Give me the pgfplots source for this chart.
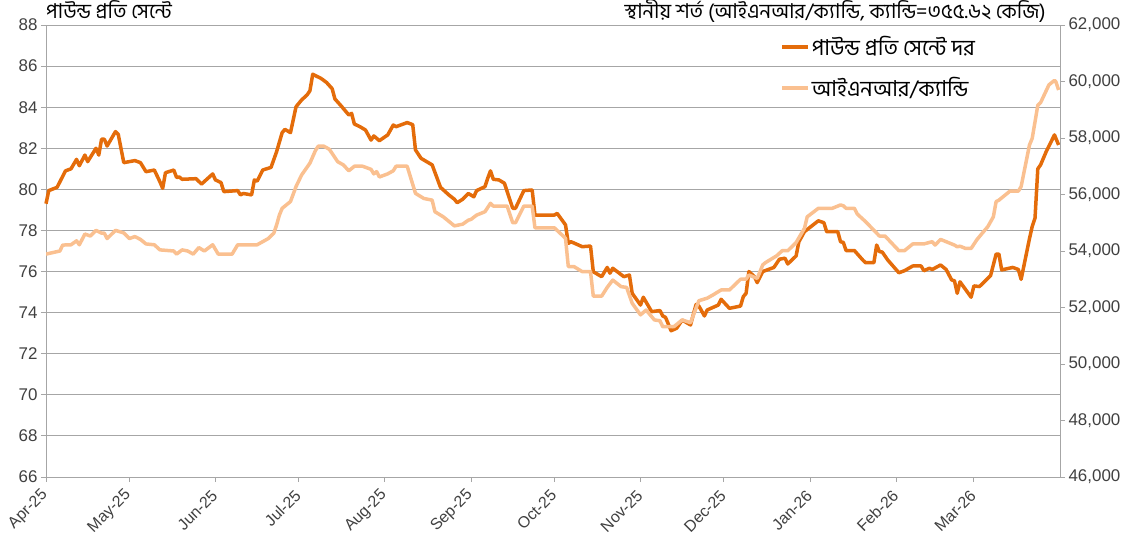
\documentclass[border=0pt]{standalone}
\usepackage{fontspec}
\setmainfont{Liberation Sans}
\newfontfamily\bn[Script=Bengali]{Hind Siliguri}
\usepackage{pgfplots}
\usepackage{pgfplotstable}
\pgfplotsset{compat=1.18}
\definecolor{dk}{HTML}{E46C0A}
\definecolor{lt}{HTML}{FAC090}
\definecolor{gridc}{HTML}{A6A6A6}
\definecolor{txt}{HTML}{404040}

% day (0 = 1 Apr 2025), US cents per pound
\pgfplotstableread{
d v
0 79.3
1 79.94
4 80.1
7 80.9
9 81.0
11 81.46
12 81.15
14 81.67
15 81.35
18 82.0
19 81.67
20 82.44
21 82.44
22 82.11
25 82.81
26 82.68
28 81.3
32 81.4
34 81.3
36 80.86
39 80.94
41 80.37
42 80.05
43 80.81
46 80.94
47 80.58
48 80.6
49 80.49
54 80.52
56 80.26
60 80.75
61 80.46
63 80.33
64 79.89
69 79.94
70 79.73
71 79.8
74 79.73
75 80.46
76 80.4
78 80.94
81 81.07
83 81.83
85 82.76
86 82.92
88 82.76
90 84.02
92 84.35
94 84.6
95 84.8
96 85.6
99 85.4
101 85.2
103 84.9
104 84.4
106 84.1
109 83.62
110 83.7
111 83.18
113 83.05
115 82.89
117 82.4
118 82.6
120 82.37
123 82.65
125 83.13
126 83.05
130 83.25
132 83.15
133 81.92
135 81.51
139 81.19
142 80.1
145 79.73
147 79.52
148 79.35
150 79.52
152 79.8
154 79.64
155 79.94
158 80.13
159 80.54
160 80.9
161 80.49
163 80.46
165 80.3
168 79.08
169 79.08
172 79.94
175 79.97
176 78.75
183 78.75
184 78.83
187 78.27
188 77.37
189 77.45
193 77.21
196 77.24
197 75.99
200 75.75
202 76.2
203 75.92
204 76.16
208 75.75
210 75.83
211 74.94
214 74.37
215 74.75
218 74.05
221 74.1
222 73.84
223 73.77
225 73.12
227 73.24
229 73.64
232 73.4
234 74.4
235 74.32
237 73.84
238 74.13
242 74.37
243 74.65
246 74.21
250 74.32
251 74.78
252 74.94
253 76.0
255 75.75
256 75.46
258 76.0
262 76.2
264 76.6
266 76.65
267 76.37
270 76.76
271 77.45
273 77.94
278 78.47
280 78.38
281 77.94
285 77.94
286 77.45
287 77.42
288 77.02
291 77.02
294 76.56
295 76.43
298 76.43
299 77.29
300 76.97
301 76.95
303 76.56
307 75.94
309 76.04
312 76.27
315 76.27
316 76.04
318 76.16
319 76.1
322 76.32
324 76.1
326 75.59
327 75.55
328 74.94
329 75.5
333 74.75
334 75.3
336 75.27
340 75.8
342 76.85
343 76.85
344 76.08
348 76.2
350 76.1
351 75.62
354 77.6
355 78.2
356 78.6
357 81.0
358 81.19
360 81.83
363 82.65
364.5 82.16
}\darktab

% day, INR per candy
\pgfplotstableread{
d v
0 53890
5 54000
6 54210
9 54220
11 54360
12 54220
14 54600
16 54530
18 54730
20 54630
21 54630
22 54440
25 54730
28 54640
30 54440
32 54510
34 54410
36 54250
39 54220
41 54040
46 54000
47 53890
49 54040
51 54000
53 53890
55 54120
57 54000
60 54220
62 53890
67 53890
69 54220
76 54220
78 54330
80 54440
82 54630
83 54920
84 55270
85 55510
88 55750
90 56280
92 56690
95 57110
97 57560
98 57710
100 57710
102 57600
105 57160
107 57050
109 56840
111 57000
114 57000
117 56890
118 56730
119 56810
120 56620
123 56730
125 56840
126 57000
130 57000
133 56040
136 55860
139 55800
140 55390
143 55210
147 54890
150 54950
152 55090
153 55120
155 55270
158 55390
160 55690
161 55590
166 55590
168 55000
169 55000
172 55590
175 55590
176 54820
183 54820
187 54450
188 53450
190 53450
193 53270
196 53270
197 52400
200 52400
202 52710
204 52970
207 52740
209 52710
211 52150
214 51740
216 51910
219 51560
221 51530
222 51320
226 51320
229 51560
232 51460
235 52240
238 52330
240 52440
243 52620
246 52620
250 53000
252 53000
253 53150
256 53030
258 53510
259 53590
263 53830
265 54010
267 54010
270 54300
273 54800
274 55210
278 55510
283 55510
286 55630
287 55600
288 55510
291 55510
292 55310
295 55040
300 54530
302 54530
307 54010
309 54010
312 54250
316 54250
319 54330
320 54210
322 54410
325 54290
327 54210
328 54150
329 54170
331 54090
333 54090
335 54390
337 54630
339 54860
341 55210
342 55750
343 55800
347 56120
350 56120
351 56280
354 57750
355 57990
357 59160
358 59250
361 59880
363 60040
363.5 59990
364.5 59700
}\lighttab

\begin{document}
\begin{tikzpicture}
\pgfplotsset{every axis/.append style={
  scale only axis, width=1014bp, height=452bp,
  at={(0,0)}, anchor=south west,
  xmin=0, xmax=365,
  tick label style={font=\fontsize{17}{20}\selectfont, text=txt},
  /pgf/number format/assume math mode=true,
  axis line style={gridc, line width=0.9bp},
  major tick length=5bp,
  tick style={gridc, line width=0.9bp},
  tick align=outside,
}}
\begin{axis}[
  axis x line*=bottom, axis y line*=left,
  ymin=66, ymax=88, ytick={66,68,...,88},
  ymajorgrids, grid style={gridc, line width=0.9bp},
  xtick={0,30,61,91,122,153,183,214,244,275,306,334},
  xticklabels={Apr-25,May-25,Jun-25,Jul-25,Aug-25,Sep-25,Oct-25,Nov-25,Dec-25,Jan-26,Feb-26,Mar-26},
  xticklabel style={font=\fontsize{16}{19}\selectfont, rotate=45, anchor=east, inner sep=1bp},
  xticklabel shift=10bp,
  clip=false,
]
\addplot[dk, line width=3.5bp, line join=round] table[x=d, y=v] {\darktab};
\node[anchor=base west, inner sep=0pt, font=\bn\fontsize{20.5}{24}\selectfont] at (rel axis cs:0,1) [yshift=6bp] {পাউন্ড প্রতি সেন্টে};
\node[anchor=base east, inner sep=0pt, font=\bn\fontsize{20.5}{24}\selectfont] at (rel axis cs:0.986,1) [yshift=6bp] {স্থানীয় শর্ত (আইএনআর/ক্যান্ডি, ক্যান্ডি=৩৫৫.৬২ কেজি)};
\end{axis}
\begin{axis}[
  axis y line*=right, axis x line=none,
  ymin=46000, ymax=62000, ytick={46000,48000,...,62000},
  scaled y ticks=false,
  yticklabel style={/pgf/number format/.cd, fixed, 1000 sep={,}},
  legend style={at={(rel axis cs:0.724,0.979)}, anchor=north west, draw=none, fill=none,
    font=\bn\fontsize{22}{26}\selectfont, row sep=16bp, inner sep=0pt},
  legend cell align=left,
  legend image code/.code={\draw[#1] (0bp,0bp) -- (26bp,0bp);},
]
\addlegendimage{dk, line width=3.5bp}
\addlegendentry{পাউন্ড প্রতি সেন্টে দর}
\addplot[lt, line width=3.5bp, line join=round] table[x=d, y=v] {\lighttab};
\addlegendentry{আইএনআর/ক্যান্ডি}
\end{axis}
\pgfresetboundingbox
\useasboundingbox (-46bp,-71bp) rectangle (1092bp,477bp);
\end{tikzpicture}
\end{document}
